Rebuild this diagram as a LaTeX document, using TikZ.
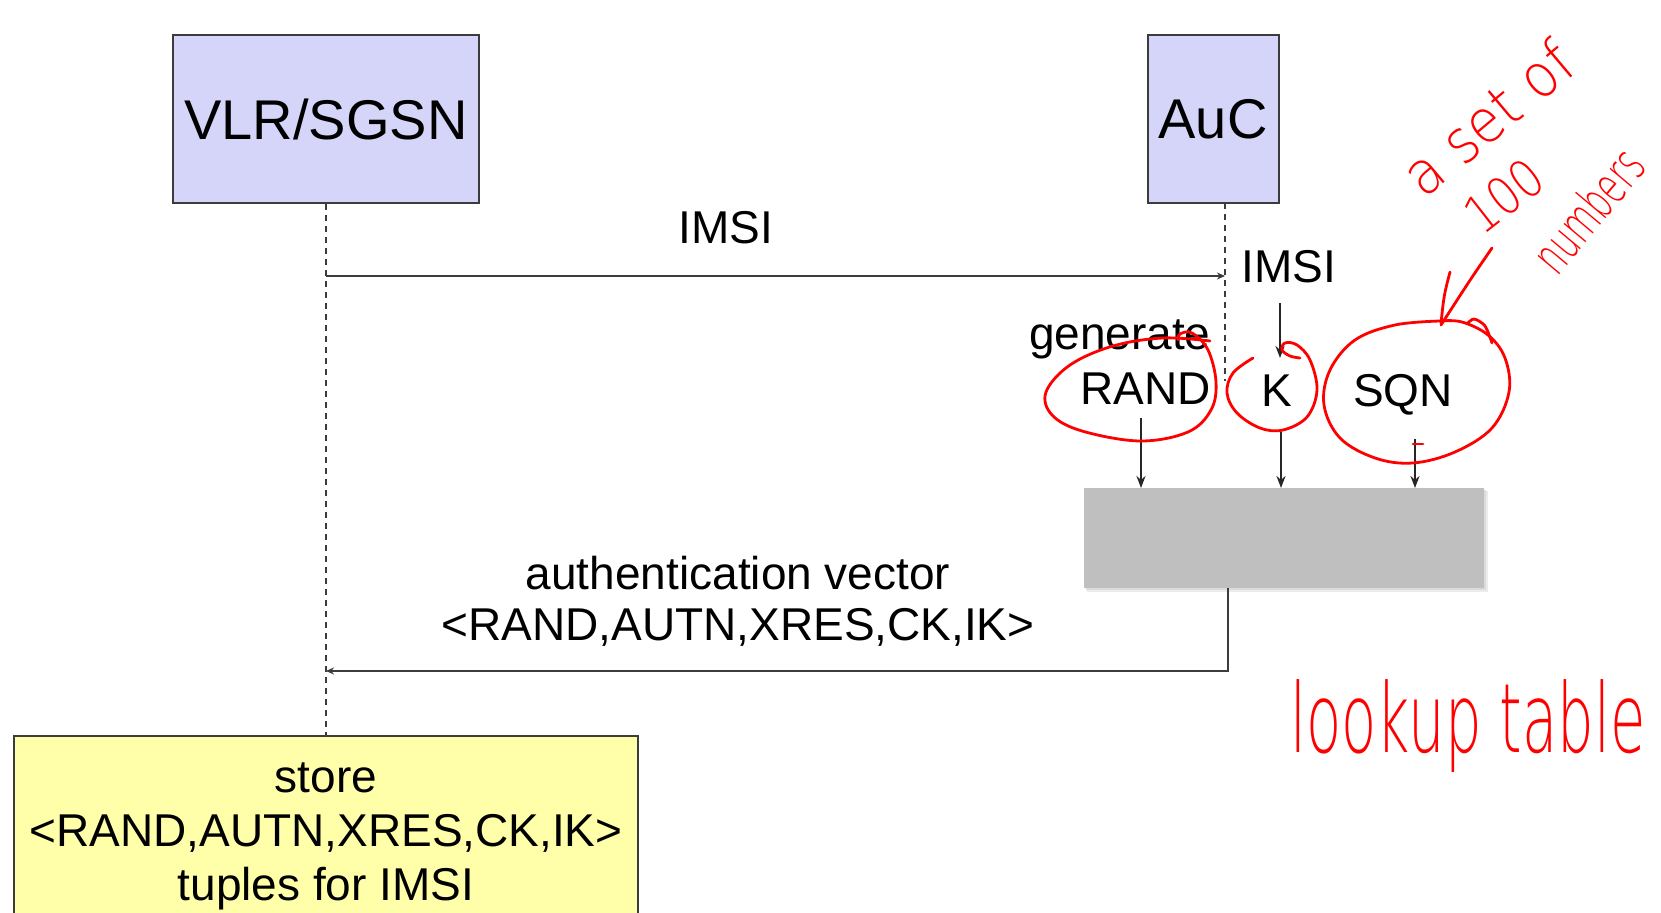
\documentclass[tikz,border=0pt]{standalone}
\usepackage{fontspec}
\setmainfont{Liberation Sans}
\newfontfamily\hand{DejaVuSans-ExtraLight.ttf}
\usetikzlibrary{arrows.meta}
\definecolor{lav}{RGB}{213,213,250}
\definecolor{yel}{RGB}{255,255,170}
\definecolor{lutgray}{RGB}{191,191,191}
\definecolor{ln}{RGB}{60,60,60}
\definecolor{pencol}{RGB}{255,0,0}
\begin{document}
\begin{tikzpicture}[x=0.5pt,y=-0.5pt,
  actor/.style={draw=ln, line width=1pt, fill=lav, inner sep=0, font=\fontsize{28}{32}\selectfont},
  storebox/.style={draw=ln, line width=1pt, fill=yel, inner sep=0, align=center, font=\fontsize{23}{27}\selectfont},
  lutbox/.style={fill=lutgray, inner sep=0},
  life/.style={draw=ln, line width=0.8pt, dash pattern=on 3pt off 2.5pt},
  msg/.style={draw=ln, line width=1pt, -{Stealth[length=4pt,width=3.5pt]}},
  arr/.style={draw=black!85, line width=1.1pt, -{Stealth[length=6pt,width=4.5pt]}},
  lbl/.style={inner sep=0, font=\fontsize{23}{27}\selectfont},
  pen/.style={draw=pencol, line width=1.4pt, line cap=round, line join=round},
  handtxt/.style={text=pencol, inner sep=0}
]
\useasboundingbox (0,0) rectangle (1661,913);
\clip (0,0) rectangle (1661,913);

% actors
\node[actor, minimum width=153pt, minimum height=84pt] (vlr) at (326,119) {VLR/SGSN};
\node[actor, minimum width=65.5pt, minimum height=84pt] (auc) at (1213,119) {AuC};

% store box (cut by the lower edge)
\node[storebox, minimum width=312pt, minimum height=100pt] (store) at (326,836)
  {store\\{<}RAND,AUTN,XRES,CK,IK{>}\\tuples for IMSI};

% lookup box with soft shadow
\fill[black!8] (1087,491) rectangle (1488,592);
\fill[black!14] (1086,490) rectangle (1486,590);
\node[lutbox, minimum width=200pt, minimum height=50pt] (lut) at (1284,538) {};

% lifelines
\coordinate (aucTop) at (1225,203);
\coordinate (aucEnd) at (1225,381);
\draw[life] (vlr.south) -- (store.north);
\draw[life] (aucTop) -- (aucEnd);

% IMSI request
\coordinate (m1s) at (326,276);
\coordinate (m1e) at (1225,276);
\draw[msg] (m1s) -- (m1e);
\node[lbl, anchor=base] (imsi1) at (726,244) {IMSI};

% inputs
\node[lbl, anchor=base] (imsi2) at (1289,283) {IMSI};
\node[lbl, anchor=base east] (gen) at (1211,350) {generate};
\node[lbl, anchor=base east] (rand) at (1211,405) {RAND};
\node[lbl, anchor=base] (k) at (1277,407) {K};
\node[lbl, anchor=base] (sqn) at (1403,407) {SQN};

\coordinate (kin) at (1280,358);
\coordinate (kout) at (1280,303);
\draw[arr] (kout) -- (kin);
\coordinate (inR) at (1141,488);
\coordinate (inK) at (1281,488);
\coordinate (inS) at (1415,488);
\draw[arr] ([yshift=-6.5pt]rand.south -| inR) -- (inR);
\draw[arr] ([yshift=-12.5pt]k.south -| inK) -- (inK);
\draw[arr] ([yshift=-11.5pt]sqn.south -| inS) -- (inS);

% authentication vector return
\coordinate (ret) at (1228,671);
\draw[msg] (lut.south -| ret) -- (ret) -- (ret -| vlr.south);
\node[lbl, anchor=base] (av1) at (738,590) {authentication vector};
\node[lbl, anchor=base] (av2) at (738,641) {{<}RAND,AUTN,XRES,CK,IK{>}};

% red hand annotations
\draw[pen] plot[smooth, tension=0.6] coordinates {(1210,341) (1163,338) (1113,346) (1070,365) (1046,392) (1052,415) (1082,431) (1140,441) (1188,432) (1211,410) (1216,382) (1208,350) (1192,333) (1180,334) (1178,340)};
\draw[pen] plot[smooth, tension=0.6] coordinates {(1253,358) (1233,373) (1227,393) (1237,413) (1260,428) (1283,430) (1307,417) (1317,390) (1310,360) (1297,345) (1285,343) (1282,350) (1290,356) (1300,358)};
\draw[pen] plot[smooth, tension=0.6] coordinates {(1440,321) (1395,325) (1355,340) (1330,370) (1324,405) (1340,438) (1375,458) (1413,463) (1455,452) (1492,428) (1509,392) (1505,358) (1488,335) (1462,322) (1440,321)};
\draw[pen] plot[smooth] coordinates {(1467,324) (1474,319) (1485,326) (1492,343)};
\draw[pen] (1413,444) -- (1423,444);
\draw[pen] (1492,248) .. controls (1470,280) .. (1441,325);
\draw[pen] (1450,272) .. controls (1444,295) .. (1441,323);

\node[handtxt, rotate=40, font=\hand\fontsize{30}{34}\selectfont] (hw1) at (1488,118) {\scalebox{0.9}[1]{a set of}};
\node[handtxt, rotate=38, font=\hand\fontsize{26}{30}\selectfont] (hw2) at (1504,196) {\scalebox{0.85}[1]{100}};
\node[handtxt, rotate=50, font=\hand\fontsize{26}{30}\selectfont] (hw3) at (1588,210) {\scalebox{0.62}[1]{numbers}};
\node[handtxt, anchor=base, font=\hand\fontsize{48}{52}\selectfont] (hw4) at (1468,753) {\scalebox{0.6}[1]{lookup table}};
\end{tikzpicture}
\end{document}
